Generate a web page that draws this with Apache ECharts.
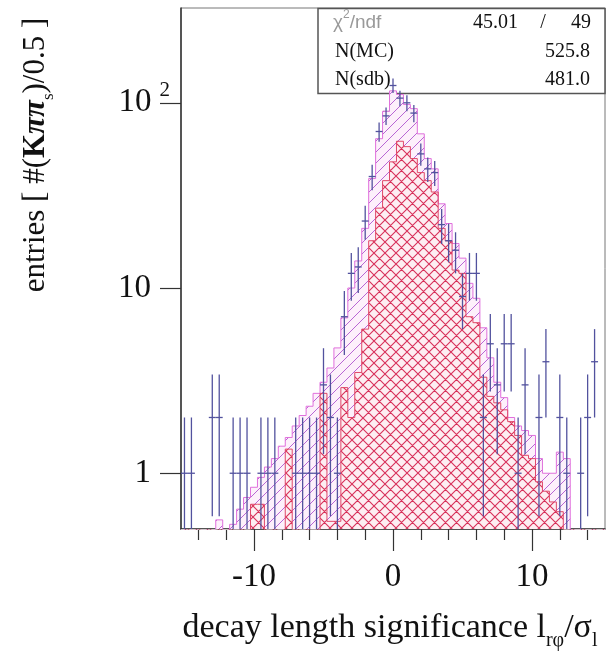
<!DOCTYPE html>
<html>
<head>
<meta charset="utf-8">
<script src="https://cdn.jsdelivr.net/npm/echarts@6/dist/echarts.min.js"></script>
<style>
  html, body { margin: 0; padding: 0; background: #fff; }
  #chart { width: 616px; height: 658px; }
</style>
</head>
<body>
<div id="chart"></div>
<script>
// bins of 0.5 in decay length significance
const binCenters = [-15, -14.5, -14, -13.5, -13, -12.5, -12, -11.5, -11, -10.5,
  -10, -9.5, -9, -8.5, -8, -7.5, -7, -6.5, -6, -5.5,
  -5, -4.5, -4, -3.5, -3, -2.5, -2, -1.5, -1, -0.5,
  0, 0.5, 1, 1.5, 2, 2.5, 3, 3.5, 4, 4.5,
  5, 5.5, 6, 6.5, 7, 7.5, 8, 8.5, 9, 9.5,
  10, 10.5, 11, 11.5, 12, 12.5, 13, 13.5, 14, 14.5,
  15]

// data points (entries per bin)
const dataCounts = [1, 1, 0, 0, 2, 2, 0, 1, 1, 1,
  0, 1, 1, 1, 0, 0, 1, 1, 1, 1,
  3, 2, 1, 7, 12, 13, 23, 40, 70, 85,
  124, 106, 100, 88, 53, 44, 42, 22, 18, 16,
  9, 12, 12, 2, 5, 3, 5, 5, 1, 3,
  0, 2, 4, 0, 2, 1, 0, 1, 2, 4,
  0]

// MC + sideband (magenta, single hatch)
const mcTotal = [0, 0, 0, 0, 0, 0.56, 0, 0.53, 0.64, 0.74,
  0.84, 0.95, 1.08, 1.2, 1.4, 1.56, 1.8, 2.05, 2.3, 2.7,
  3.1, 3.7, 4.75, 6.9, 10, 14, 21, 39, 64, 90,
  116, 111, 98, 93, 68, 50, 44, 28.5, 22.3, 17.4,
  14.5, 10.6, 8.8, 6.1, 4.2, 3.1, 2.56, 2.0, 1.8, 1.7,
  1.6, 1.2, 1.0, 1.0, 1.3, 1.2, 0, 0, 0, 0,
  0]

// sideband only (red, cross hatch)
const sdbCounts = [0, 0, 0, 0, 0, 0, 0, 0, 0, 0,
  0.68, 0.68, 0, 0, 0, 1.35, 0, 0, 0, 0,
  2.7, 0.55, 0.55, 2.9, 2.0, 3.5, 6, 18, 27, 38,
  48, 62, 58, 50, 42, 38, 33, 21, 18, 12.5,
  12, 7, 6.5, 3.3, 2.6, 2.4, 2.2, 1.9, 1.6, 1.25,
  1.2, 0.9, 0.8, 0.7, 0.62, 0, 0, 0, 0, 0,
  0]

const xTickLabels = [-10, 0, 10]
const xMinorTicks = [-14, -12, -8, -6, -4, -2, 2, 4, 6, 8, 12, 14]
const yTickLabels = [1, 10, 100]
const yMinorTicks = [0.6, 0.7, 0.8, 0.9, 2, 3, 4, 5, 6, 7, 8, 9,
  20, 30, 40, 50, 60, 70, 80, 90, 200, 300]

const statRows = [
  ['N(MC)', '525.8'],
  ['N(sdb)', '481.0']
]

const binHalf = 0.25
const yMin = 0.5
const yMax = 325
const floorVal = 0.05
const serif = 'Liberation Serif'
const axisColor = '#333'

function hatch(bg, fg, size, dirs, lw) {
  const c = document.createElement('canvas')
  c.width = c.height = size
  const g = c.getContext('2d')
  g.fillStyle = bg
  g.fillRect(0, 0, size, size)
  g.strokeStyle = fg
  g.lineWidth = lw
  g.beginPath()
  dirs.forEach((d) => {
    if (d > 0) {
      g.moveTo(-1, size + 1); g.lineTo(size + 1, -1)
      g.moveTo(-1, 1); g.lineTo(1, -1)
      g.moveTo(size - 1, size + 1); g.lineTo(size + 1, size - 1)
    } else {
      g.moveTo(-1, -1); g.lineTo(size + 1, size + 1)
      g.moveTo(size - 1, -1); g.lineTo(size + 1, 1)
      g.moveTo(-1, size - 1); g.lineTo(1, size + 1)
    }
  })
  g.stroke()
  return c
}

const magentaHatch = hatch('#fdf0fb', '#b866d4', 11, [1], 1)
const redHatch = hatch('#fdeef2', '#d8305a', 11, [1, -1], 1.1)

// histogram outline as a step line through the bin edges
function stepData(vals) {
  const pts = binCenters.map((c, i) => [c - binHalf, vals[i] > 0 ? vals[i] : floorVal])
  pts.push([binCenters[binCenters.length - 1] + binHalf, floorVal])
  return pts
}

function histSeries(name, vals, line, pattern) {
  return {
    name,
    type: 'line',
    step: 'end',
    data: stepData(vals),
    symbol: 'none',
    clip: true,
    silent: true,
    lineStyle: { color: line, width: 1 },
    areaStyle: { color: { image: pattern, repeat: 'repeat' }, opacity: 1, origin: 'start' }
  }
}

const chart = echarts.init(document.getElementById('chart'))

chart.setOption({
  animation: false,
  backgroundColor: '#fff',
  grid: { left: 181, right: 11, top: 8, bottom: 129, show: true, borderColor: '#777', borderWidth: 1, containLabel: false, outerBoundsMode: 'none' },
  xAxis: [
    {
      type: 'value', min: -15.25, max: 15.25, position: 'bottom',
      axisLine: { show: true, onZero: false, lineStyle: { color: axisColor, width: 1.5 } },
      axisTick: { show: true, customValues: xTickLabels, length: 22, lineStyle: { color: axisColor, width: 1.2 } },
      axisLabel: { customValues: xTickLabels, margin: 32, color: '#111', fontFamily: serif, fontSize: 33 },
      splitLine: { show: false }
    },
    {
      type: 'value', min: -15.25, max: 15.25, position: 'bottom',
      axisLine: { show: false },
      axisTick: { show: true, customValues: xMinorTicks, length: 11, lineStyle: { color: axisColor, width: 1.2 } },
      axisLabel: { show: false },
      splitLine: { show: false }
    }
  ],
  yAxis: [
    {
      type: 'log', min: yMin, max: yMax, position: 'left',
      axisLine: { show: true, onZero: false, lineStyle: { color: axisColor, width: 1.5 } },
      axisTick: { show: true, customValues: yTickLabels, length: 21, lineStyle: { color: axisColor, width: 1.2 } },
      axisLabel: {
        customValues: yTickLabels,
        margin: 11,
        formatter: (v) => {
          const r = Math.round(v)
          return r >= 100 ? '{n|10}{s|2}' : '{n|' + r + '}{p|}'
        },
        rich: {
          n: { fontFamily: serif, fontSize: 33, color: '#111', lineHeight: 46 },
          s: { fontFamily: serif, fontSize: 21, color: '#111', lineHeight: 21, verticalAlign: 'top', padding: [0, 0, 0, 8] },
          p: { width: 19 }
        }
      },
      splitLine: { show: false }
    },
    {
      type: 'log', min: yMin, max: yMax, position: 'left',
      axisLine: { show: false },
      axisTick: { show: true, customValues: yMinorTicks, length: 10, lineStyle: { color: axisColor, width: 1.2 } },
      axisLabel: { show: false },
      splitLine: { show: false }
    }
  ],
  series: [
    histSeries('MC', mcTotal, '#e070dc', magentaHatch),
    histSeries('sdb', sdbCounts, '#e04868', redHatch),
    {
      name: 'data',
      type: 'custom',
      data: binCenters.map((c, i) => [c, dataCounts[i]]).filter((d) => d[1] > 0),
      encode: { x: 0, y: 1 },
      silent: true,
      z: 5,
      renderItem: (params, api) => {
        const x = api.value(0)
        const n = api.value(1)
        const e = Math.sqrt(n)
        const top = api.coord([x, n + e])
        const bot = api.coord([x, Math.max(n - e, yMin)])
        const l = api.coord([x - binHalf, n])
        const r = api.coord([x + binHalf, n])
        const style = { stroke: '#52529e', lineWidth: 1.3 }
        return {
          type: 'group',
          children: [
            { type: 'line', shape: { x1: top[0], y1: top[1], x2: bot[0], y2: bot[1] }, style },
            { type: 'line', shape: { x1: l[0], y1: l[1], x2: r[0], y2: r[1] }, style }
          ]
        }
      }
    }
  ],
  graphic: [
    {
      type: 'rect', z: 1,
      shape: { x: 318, y: 8.5, width: 287, height: 85 },
      style: { fill: '#fff', stroke: '#555', lineWidth: 1.5 }
    },
    {
      type: 'text', z: 1, x: 333, y: 23,
      style: {
        text: '{g|χ}{s|2}{g|/ndf}', verticalAlign: 'middle',
        rich: {
          g: { fontFamily: 'Liberation Sans', fontSize: 19, fill: '#999', lineHeight: 28 },
          s: { fontFamily: 'Liberation Sans', fontSize: 12, fill: '#999', lineHeight: 12, verticalAlign: 'top' }
        }
      }
    },
    { type: 'text', z: 1, x: 518, y: 23, style: { text: '45.01', font: '20px ' + serif, fill: '#111', align: 'right', verticalAlign: 'middle' } },
    { type: 'text', z: 1, x: 543, y: 23, style: { text: '/', font: '20px ' + serif, fill: '#111', align: 'center', verticalAlign: 'middle' } },
    { type: 'text', z: 1, x: 591, y: 23, style: { text: '49', font: '20px ' + serif, fill: '#111', align: 'right', verticalAlign: 'middle' } },
    ...statRows.flatMap((row, i) => [
      { type: 'text', z: 1, x: 335, y: 52 + i * 28, style: { text: row[0], font: '20px ' + serif, fill: '#111', verticalAlign: 'middle' } },
      { type: 'text', z: 1, x: 590, y: 52 + i * 28, style: { text: row[1], font: '20px ' + serif, fill: '#111', align: 'right', verticalAlign: 'middle' } }
    ]),
    {
      type: 'text', x: 390, y: 628,
      style: {
        text: '{t|decay length significance l}{sub|rφ}{t|/σ}{sub|l}', align: 'center', verticalAlign: 'middle',
        rich: {
          t: { fontFamily: serif, fontSize: 34, fill: '#111', lineHeight: 46 },
          sub: { fontFamily: serif, fontSize: 20, fill: '#111', lineHeight: 20, verticalAlign: 'bottom' }
        }
      }
    },
    {
      type: 'text', x: 36, y: 155, rotation: Math.PI / 2,
      style: {
        text: '{t|entries [ #(}{b|K}{bi|ππ}{sub|s}{t|)/0.5 ]}', align: 'center', verticalAlign: 'middle',
        rich: {
          t: { fontFamily: serif, fontSize: 31, fill: '#111', lineHeight: 42 },
          b: { fontFamily: serif, fontSize: 31, fontWeight: 'bold', fill: '#111', lineHeight: 42 },
          bi: { fontFamily: serif, fontSize: 31, fontWeight: 'bold', fontStyle: 'italic', fill: '#111', lineHeight: 42 },
          sub: { fontFamily: serif, fontSize: 17, fill: '#111', lineHeight: 17, verticalAlign: 'bottom' }
        }
      }
    }
  ]
})

window.addEventListener('resize', () => chart.resize())
</script>
</body>
</html>
